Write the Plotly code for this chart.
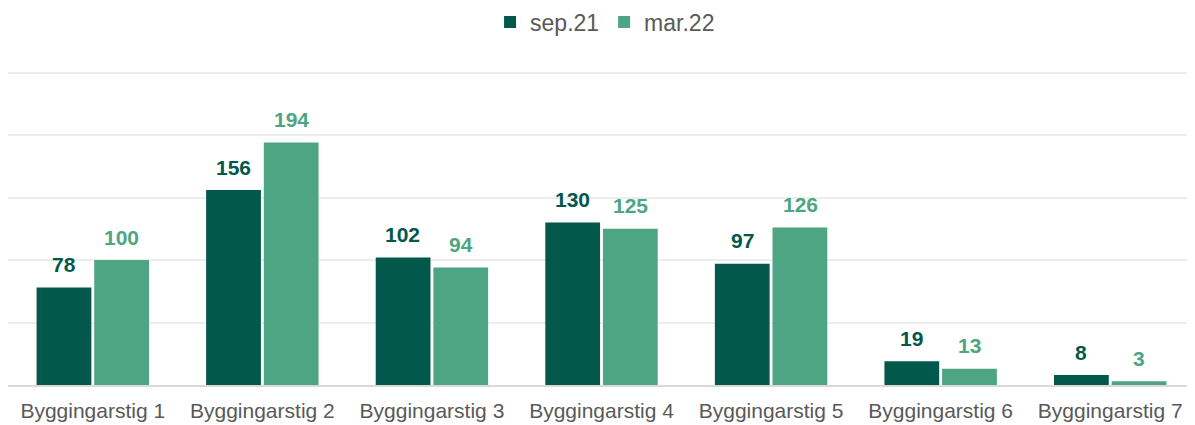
import plotly.graph_objects as go

categories = ["Byggingarstig 1", "Byggingarstig 2", "Byggingarstig 3", "Byggingarstig 4",
              "Byggingarstig 5", "Byggingarstig 6", "Byggingarstig 7"]
series_names = ["sep.21", "mar.22"]
sep21 = [78, 156, 102, 130, 97, 19, 8]
mar22 = [100, 194, 94, 125, 126, 13, 3]
colors = ["#02584A", "#4EA583"]

W, H = 1187, 417  # page body has an 8px margin

fig = go.Figure()
for name, vals, col in zip(series_names, [sep21, mar22], colors):
    fig.add_trace(go.Bar(x=categories, y=vals, name=name, marker_color=col,
                         marker_line_width=0))

annotations = []
for vals, col, shift in zip([sep21, mar22], colors, [-29, 29]):
    for c, v in zip(categories, vals):
        annotations.append(dict(x=c, y=v, xref="x", yref="y", text=str(v), showarrow=False,
                                xshift=shift, yshift=23,
                                font=dict(family="Liberation Sans", size=21, color=col, weight="bold")))

fig.update_layout(
    width=W, height=H,
    margin=dict(l=0, r=0, t=62, b=40, autoexpand=False),
    paper_bgcolor="white", plot_bgcolor="white",
    barmode="group", bargap=0.32, bargroupgap=0.05,
    font=dict(family="Liberation Sans", color="#595959"),
    legend=dict(orientation="h", x=0.503, xanchor="center", xref="container",
                y=1 - 14 / H, yanchor="middle", yref="container",
                font=dict(size=23, color="#595959"), itemwidth=30, traceorder="normal"),
    annotations=annotations,
    showlegend=True,
)
fig.update_yaxes(range=[0, 252], tickvals=[50, 100, 150, 200, 250], showticklabels=False,
                 gridcolor="#EDEDED", gridwidth=1.5, zeroline=False, showline=False, automargin=False)
fig.update_xaxes(showline=True, linecolor="#D9D9D9", linewidth=2, tickfont=dict(size=21, color="#595959"),
                 ticks="", ticklen=0, ticklabelstandoff=6, automargin=False)

fig.write_html("out.html")
